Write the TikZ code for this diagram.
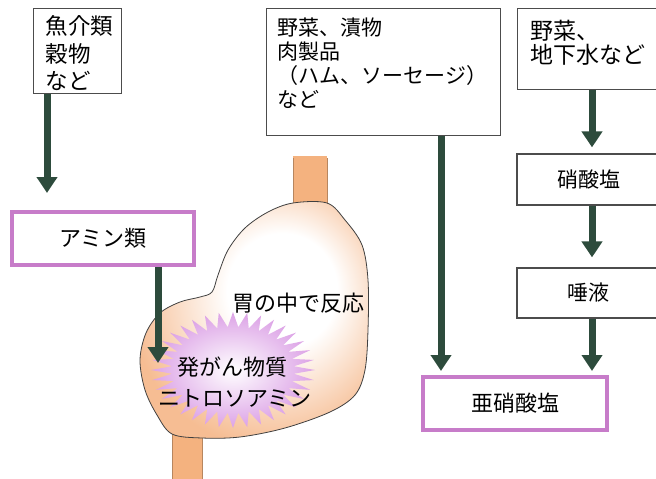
\documentclass[tikz,border=0pt]{standalone}
\usepackage{fontspec}
\setmainfont{Noto Sans CJK JP}
\usetikzlibrary{arrows.meta}

\definecolor{peach}{HTML}{F6BD93}
\definecolor{gut}{HTML}{F4B27F}
\definecolor{spike}{HTML}{DCA2E6}
\definecolor{arrowgreen}{HTML}{2D4B3C}
\definecolor{pinkframe}{HTML}{C77CC9}

\pgfdeclareradialshading{stomachglow}{\pgfpoint{8bp}{8bp}}{%
  color(0bp)=(white); color(12bp)=(white); color(30bp)=(peach); color(50bp)=(peach)}

\tikzset{
  box/.style={draw=black!70, line width=1.2pt, fill=white, inner sep=0pt},
  pinkbox/.style={draw=pinkframe, line width=4pt, fill=white, minimum height=53pt,
    font=\fontsize{22}{26}\selectfont},
  flow/.style={draw=arrowgreen, line width=7pt, -{Triangle[width=20pt,length=16pt]}},
}

\begin{document}
\begin{tikzpicture}[x=1pt, y=-1pt, font=\fontsize{21}{25}\selectfont]
  \useasboundingbox (0,0) rectangle (656,479);
  \clip (0,0) rectangle (656,479);

  %sources
  \node[box, anchor=north west, inner xsep=12pt, inner ysep=7pt] (fish) at (33,8)
    {\parbox[c][71pt][t]{64pt}{\fontsize{22.5}{27.5}\selectfont 魚介類\\穀物\\など}};
  \node[box, anchor=north west, inner xsep=11pt, inner ysep=9pt] (pickles) at (266,8)
    {\parbox[c][109pt][t]{212pt}{\fontsize{21}{24}\selectfont 野菜、漬物\\肉製品\\（ハム、ソーセージ）\\など}};
  \node[box, anchor=north west, inner xsep=13pt, inner ysep=12pt] (water) at (517,8)
    {\parbox[c][57pt][t]{117pt}{\fontsize{23}{24}\selectfont 野菜、\\地下水など}};

  \node[pinkbox, minimum width=182pt] (amine) at (103,238.5) {アミン類};
  \node[box, minimum width=143pt, minimum height=51pt] (nitrate) at (588.5,179.5) {硝酸塩};
  \node[box, minimum width=143pt, minimum height=50pt] (saliva) at (588.5,293) {唾液};
  \node[pinkbox, minimum width=184pt] (nitrite) at (515,403.5) {亜硝酸塩};

  %stomach
  \fill[gut] (293,156) rectangle (327,212);
  \draw[gut!75!black, line width=0.6pt] (293,158) -- (293,206) (327,158) -- (327,206);
  \fill[gut] (172,428) rectangle (202,482);
  \draw[gut!75!black, line width=0.6pt] (172,432) -- (172,482) (202,434) -- (202,482);
  \shade[draw=black!75, line width=0.8pt, shading=stomachglow]
    plot[smooth cycle, tension=0.55] coordinates {
      (293,203) (268,212) (245,228) (228,250) (218,275) (212,292)
      (200,297) (180,302) (160,313) (146,333) (140,360) (145,390)
      (157,415) (172,434) (202,438) (240,437) (285,428) (330,412)
      (355,395) (365,370) (368,330) (368,280) (362,245) (345,220) (327,203)};

  %starburst
  \begin{scope}[shift={(233,370)}]
    \shade[inner color=white, outer color=spike]
      (0:82 and 58) \foreach \a in {0,10,...,350} {
        -- (\a:82 and 58) -- (\a+5:61 and 43) } -- cycle;
  \end{scope}

  \node (react) at (298,303) {\fontsize{22}{26}\selectfont 胃の中で反応};
  \node (carc) at (232,367) {\fontsize{22}{26}\selectfont 発がん物質};
  \node (nitros) at (235,398) {\fontsize{22}{26}\selectfont ニトロソアミン};

  %arrows
  \coordinate (fishend) at (47,193);
  \coordinate (amineend) at (158,363);
  \coordinate (vegcol) at (441,0);
  \coordinate (rightcol) at (592,0);
  \draw[flow] (fish.south -| fishend) -- (fishend);
  \draw[flow] (amine.south -| amineend) -- (amineend);
  \draw[flow] (pickles.south -| vegcol) -- ([yshift=4pt]nitrite.north -| vegcol);
  \draw[flow] (water.south -| rightcol) -- ([yshift=6pt]nitrate.north -| rightcol);
  \draw[flow] (nitrate.south -| rightcol) -- ([yshift=10pt]saliva.north -| rightcol);
  \draw[flow] (saliva.south -| rightcol) -- ([yshift=4pt]nitrite.north -| rightcol);
\end{tikzpicture}
\end{document}
